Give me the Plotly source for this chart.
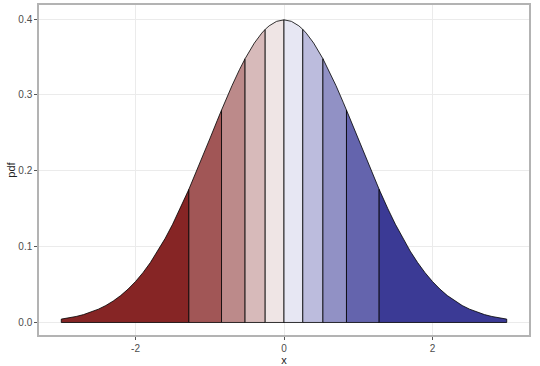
import plotly.graph_objects as go

# Standard normal density, tabulated every 0.1 from -3 to 3
x_grid = [-3.0, -2.9, -2.8, -2.7, -2.6, -2.5, -2.4, -2.3, -2.2, -2.1,
          -2.0, -1.9, -1.8, -1.7, -1.6, -1.5, -1.4, -1.3, -1.2, -1.1,
          -1.0, -0.9, -0.8, -0.7, -0.6, -0.5, -0.4, -0.3, -0.2, -0.1,
          0.0, 0.1, 0.2, 0.3, 0.4, 0.5, 0.6, 0.7, 0.8, 0.9,
          1.0, 1.1, 1.2, 1.3, 1.4, 1.5, 1.6, 1.7, 1.8, 1.9,
          2.0, 2.1, 2.2, 2.3, 2.4, 2.5, 2.6, 2.7, 2.8, 2.9, 3.0]
pdf_grid = [0.00443, 0.00595, 0.00792, 0.01042, 0.01358, 0.01753, 0.02239, 0.02833, 0.03547, 0.04398,
            0.05399, 0.06562, 0.07895, 0.09405, 0.11092, 0.12952, 0.14973, 0.17137, 0.19419, 0.21785,
            0.24197, 0.26609, 0.28969, 0.31225, 0.33322, 0.35207, 0.36827, 0.38139, 0.39104, 0.39695,
            0.39894,
            0.39695, 0.39104, 0.38139, 0.36827, 0.35207, 0.33322, 0.31225, 0.28969, 0.26609,
            0.24197, 0.21785, 0.19419, 0.17137, 0.14973, 0.12952, 0.11092, 0.09405, 0.07895, 0.06562,
            0.05399, 0.04398, 0.03547, 0.02833, 0.02239, 0.01753, 0.01358, 0.01042, 0.00792, 0.00595, 0.00443]

# Decile boundaries (band edges) and the density at them
breaks = [-3.0, -1.2816, -0.8416, -0.5244, -0.2533, 0.0, 0.2533, 0.5244, 0.8416, 1.2816, 3.0]
pdf_at_breaks = [0.00443, 0.17549, 0.27996, 0.34769, 0.38635, 0.39894,
                 0.38635, 0.34769, 0.27996, 0.17549, 0.00443]

band_colors = ["#862525", "#a15656", "#bc8a8a", "#d7baba", "#efe5e5",
               "#e7e7f3", "#bcbcdd", "#9191c5", "#6464ad", "#3b3a95"]

fig = go.Figure()
for i in range(len(breaks) - 1):
    lo, hi = breaks[i], breaks[i + 1]
    inside = [(x, p) for x, p in zip(x_grid, pdf_grid) if lo + 1e-9 < x < hi - 1e-9]
    xs = [lo] + [x for x, _ in inside] + [hi, hi, lo, lo]
    ys = [pdf_at_breaks[i]] + [p for _, p in inside] + [pdf_at_breaks[i + 1], 0, 0, pdf_at_breaks[i]]
    fig.add_trace(go.Scatter(
        x=xs, y=ys, mode="lines", fill="toself", fillcolor=band_colors[i],
        line=dict(color="black", width=0.8), hoverinfo="skip", showlegend=False))

font_family = "Liberation Sans, Arial, sans-serif"
fig.update_layout(
    template="none",
    width=540, height=366,
    margin=dict(l=39, r=11, t=5, b=31, autoexpand=False),
    paper_bgcolor="white", plot_bgcolor="white",
    font=dict(family=font_family, size=10, color="#4d4d4d"),
    showlegend=False,
)
fig.update_xaxes(
    automargin=False,
    range=[-3.3, 3.3], tickvals=[-2, 0, 2], ticktext=["-2", "0", "2"],
    showgrid=True, gridcolor="#ebebeb", gridwidth=1, zeroline=False,
    showline=True, mirror=True, linecolor="#b3b3b3", linewidth=1.5,
    ticks="outside", ticklen=3, tickcolor="#555555", tickwidth=1,
    tickfont=dict(size=10, color="#4d4d4d"),
    title=dict(text="x", font=dict(size=11, color="#222222"), standoff=1),
)
fig.update_yaxes(
    automargin=False,
    range=[-0.0165, 0.4185], tickvals=[0, 0.1, 0.2, 0.3, 0.4],
    ticktext=["0.0", "0.1", "0.2", "0.3", "0.4"],
    showgrid=True, gridcolor="#ebebeb", gridwidth=1, zeroline=False,
    showline=True, mirror=True, linecolor="#b3b3b3", linewidth=1.5,
    ticks="outside", ticklen=3, tickcolor="#555555", tickwidth=1,
    tickfont=dict(size=10, color="#4d4d4d"),
    title=dict(text="pdf", font=dict(size=11, color="#222222"), standoff=0),
)

fig.write_html("out.html", config={"displayModeBar": False},
               post_script="document.body.style.margin='0';")
